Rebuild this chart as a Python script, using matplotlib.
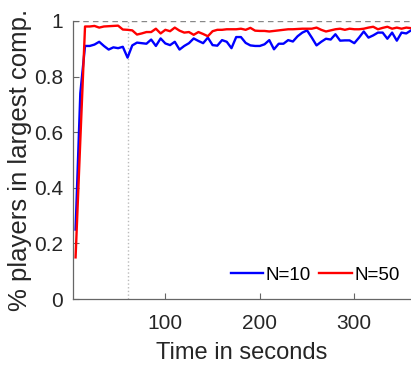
import matplotlib
matplotlib.use('Agg')
import matplotlib.pyplot as plt
import numpy as np

plt.rcParams['font.family'] = ['Liberation Sans', 'DejaVu Sans']

# time axis, one sample every 5 seconds
t = list(range(5, 361, 5))

n10 = [0.25, 0.74, 0.91, 0.91, 0.915, 0.925, 0.91, 0.897, 0.905, 0.902,
       0.907, 0.868, 0.912, 0.922, 0.92, 0.918, 0.933, 0.910, 0.937, 0.919,
       0.913, 0.925, 0.897, 0.91, 0.92, 0.937, 0.928, 0.920, 0.940, 0.913,
       0.911, 0.931, 0.925, 0.902, 0.942, 0.942, 0.921, 0.912, 0.91, 0.91,
       0.916, 0.931, 0.898, 0.918, 0.918, 0.931, 0.926, 0.945, 0.958, 0.966,
       0.94, 0.912, 0.925, 0.936, 0.933, 0.952, 0.929, 0.93, 0.93, 0.92,
       0.94, 0.962, 0.94, 0.948, 0.958, 0.958, 0.936, 0.958, 0.929, 0.958,
       0.955, 0.966]

n50 = [0.15, 0.57, 0.98, 0.98, 0.982, 0.976, 0.98, 0.981, 0.982, 0.983,
       0.969, 0.968, 0.966, 0.951, 0.955, 0.96, 0.96, 0.972, 0.955, 0.968,
       0.963, 0.976, 0.965, 0.958, 0.96, 0.95, 0.96, 0.953, 0.945, 0.963,
       0.968, 0.968, 0.970, 0.970, 0.970, 0.972, 0.968, 0.975, 0.965, 0.964,
       0.964, 0.962, 0.964, 0.966, 0.968, 0.97, 0.97, 0.971, 0.972, 0.972,
       0.972, 0.976, 0.968, 0.962, 0.966, 0.97, 0.972, 0.968, 0.972, 0.97,
       0.97, 0.972, 0.976, 0.979, 0.97, 0.975, 0.979, 0.972, 0.976, 0.972,
       0.976, 0.974]

xticks = [100, 200, 300]
yticks = [0, 0.2, 0.4, 0.6, 0.8, 1]
ytick_labels = ['0', '0.2', '0.4', '0.6', '0.8', '1']

fig = plt.figure(figsize=(4.11, 3.67), dpi=100)
ax = fig.add_axes([0.177, 0.185, 0.823, 0.758])

ax.axhline(1, color='#888888', ls=(0, (4, 3)), lw=1.0, zorder=1)
ax.axvline(60, color='#bbbbbb', ls=':', lw=1.0, zorder=1)

ax.plot(t, n10, color='blue', lw=1.7, label='N=10', zorder=3)
ax.plot(t, n50, color='red', lw=1.7, label='N=50', zorder=3)

ax.set_xlim(2, 360)
ax.set_ylim(0, 1)
ax.set_xticks(xticks)
ax.set_yticks(yticks)
ax.set_yticklabels(ytick_labels)

for s in ['top', 'right']:
    ax.spines[s].set_visible(False)
for s in ['left', 'bottom']:
    ax.spines[s].set_color('#666666')
    ax.spines[s].set_linewidth(0.9)

ax.tick_params(direction='in', length=4, width=0.8, color='#666666',
               labelsize=15, labelcolor='#262626')
ax.tick_params(axis='x', pad=11)
ax.tick_params(axis='y', pad=7)

ax.set_xlabel('Time in seconds', fontsize=17, color='#262626', labelpad=6)
ax.set_ylabel('% players in largest comp.', fontsize=18.5, color='#262626')
ax.yaxis.set_label_coords(-0.12, 0.5)

ax.legend(loc='lower right', ncol=2, frameon=False, fontsize=13.5,
          handlelength=1.75, handletextpad=0.12, columnspacing=0.45,
          borderaxespad=0.2, bbox_to_anchor=(1.0, 0.015))

fig.savefig('out.png', dpi=100)
